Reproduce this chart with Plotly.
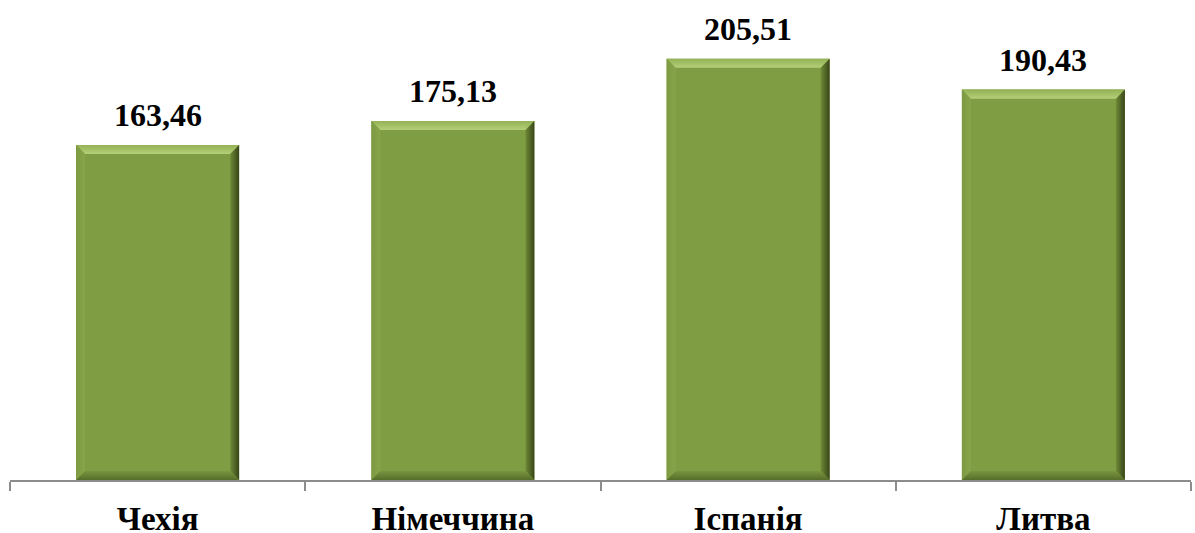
import plotly.graph_objects as go

categories = ["Чехія", "Німеччина", "Іспанія", "Литва"]
values = [163.46, 175.13, 205.51, 190.43]
labels = ["163,46", "175,13", "205,51", "190,43"]

FONT = "Liberation Serif, Times New Roman, serif"
BASE = "#7F9D43"
BAR_W = 0.552
BX = 0.030   # bevel width in x units
BY = 4.4     # bevel height in y units

xs = list(range(len(categories)))

fig = go.Figure()
fig.add_trace(go.Bar(x=xs, y=values, width=BAR_W, marker=dict(color=BASE, line=dict(width=0)),
                     hoverinfo="skip", showlegend=False))

def poly(px, py, orient, c0, c1):
    fig.add_trace(go.Scatter(
        x=px + [px[0]], y=py + [py[0]], mode="lines", line=dict(width=0),
        fill="toself", fillgradient=dict(type=orient, colorscale=[[0, c0], [1, c1]]),
        hoverinfo="skip", showlegend=False))

h = BAR_W / 2
for i, v in zip(xs, values):
    L, R = i - h, i + h
    # top bevel (light)
    poly([L, R, R - BX, L + BX], [v, v, v - BY, v - BY], "vertical", "#B4CF78", "#93B155")
    # left bevel
    poly([L, L + BX, L + BX, L], [v, v - BY, BY, 0], "horizontal", "#7C9A41", "#88A54B")
    # right bevel (dark)
    poly([R, R - BX, R - BX, R], [v, v - BY, BY, 0], "horizontal", "#6E8937", "#384618")
    # bottom bevel (dark)
    poly([L, R, R - BX, L + BX], [0, 0, BY, BY], "vertical", "#566D2A", "#789540")

for i, v, t in zip(xs, values, labels):
    fig.add_annotation(x=i, y=v, text=t, showarrow=False, yanchor="bottom", yshift=10,
                       font=dict(family=FONT, size=32, color="#000000", weight="bold"))

fig.update_layout(
    width=1195, height=533,
    margin=dict(l=10, r=4, t=8, b=53),
    paper_bgcolor="white", plot_bgcolor="white",
    xaxis=dict(range=[-0.5, 3.5], tickmode="array", tickvals=xs, ticktext=categories,
               automargin=False,
               ticks="outside", ticklen=8, tickcolor="rgba(0,0,0,0)",
               tickfont=dict(family=FONT, size=33, color="#000000", weight="bold"),
               showline=True, linecolor="#8C8C8C", linewidth=2, showgrid=False, zeroline=False,
               minor=dict(tickmode="array", tickvals=[-0.5, 0.5, 1.5, 2.5, 3.5], ticks="outside",
                          ticklen=9, tickwidth=2, tickcolor="#8C8C8C", showgrid=False)),
    yaxis=dict(range=[0, 472 / 2.05], visible=False, showgrid=False, zeroline=False,
               automargin=False),
)

fig.write_html("out.html", config={"displayModeBar": False},
               post_script="document.body.style.margin='0';document.body.style.overflow='hidden';")
